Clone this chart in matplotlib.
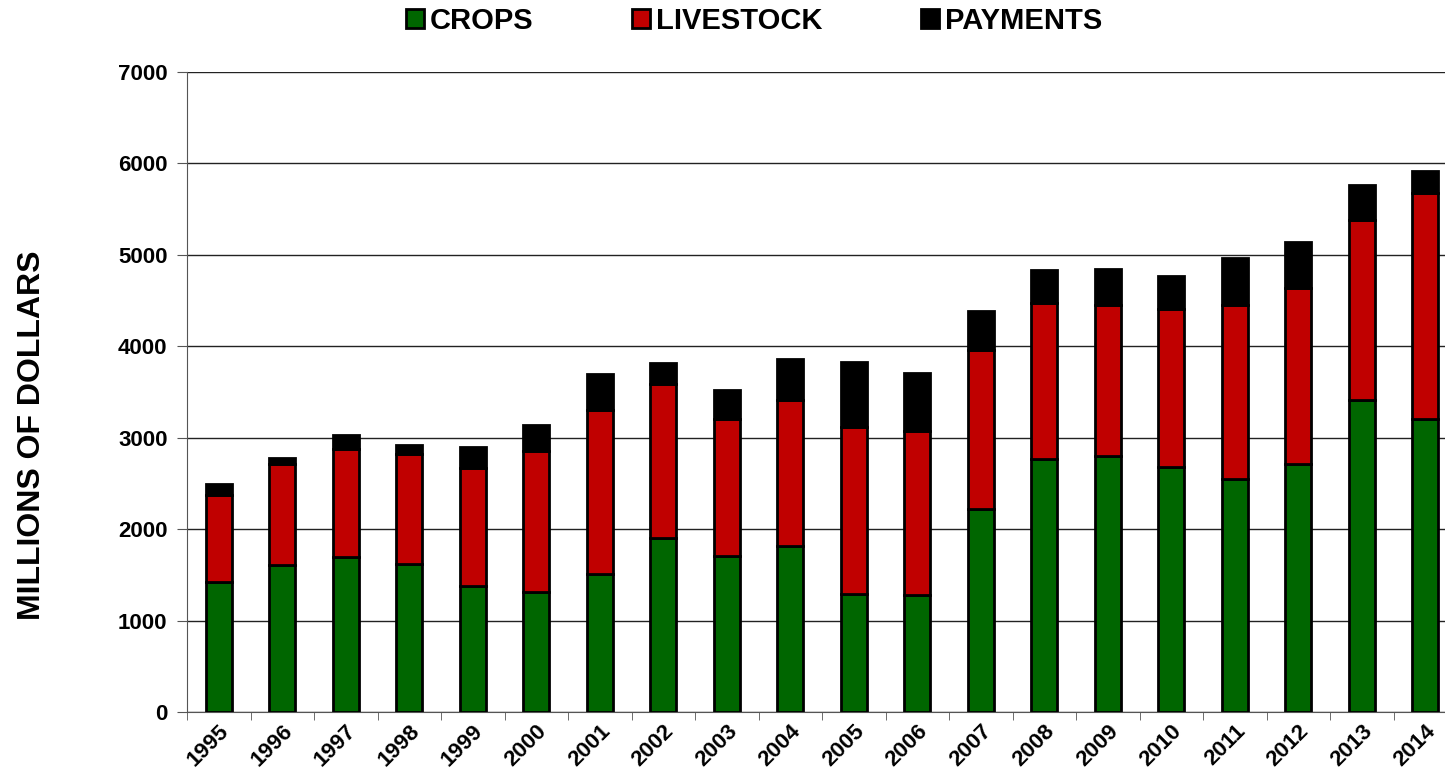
import matplotlib.pyplot as plt
import matplotlib.transforms as mtransforms
import numpy as np

# datos (millones de dolares)
years = ['1995', '1996', '1997', '1998', '1999', '2000', '2001', '2002', '2003', '2004',
         '2005', '2006', '2007', '2008', '2009', '2010', '2011', '2012', '2013', '2014']
crops = [1422, 1608, 1695, 1619, 1378, 1312, 1509, 1903, 1706, 1816,
         1291, 1280, 2220, 2767, 2800, 2680, 2548, 2712, 3412, 3205]
livestock = [951, 1104, 1182, 1203, 1291, 1543, 1794, 1684, 1499, 1596,
             1826, 1793, 1739, 1706, 1651, 1728, 1903, 1925, 1969, 2472]
payments = [122, 67, 153, 99, 230, 285, 395, 231, 318, 450,
            712, 636, 428, 362, 395, 362, 515, 504, 384, 241]

plt.rcParams['font.family'] = ['Liberation Sans', 'DejaVu Sans']
plt.rcParams['font.weight'] = 'bold'

fig = plt.figure(figsize=(14.45, 7.74), dpi=100)
ax = fig.add_axes([187 / 1445, 62 / 774, 1270 / 1445, 640 / 774])

x = np.arange(len(years))
ancho = 0.41
base2 = np.array(crops)
base3 = base2 + np.array(livestock)

ax.bar(x, crops, ancho, color='#006600', edgecolor='black', linewidth=2.0,
       label='CROPS', zorder=3)
ax.bar(x, livestock, ancho, bottom=base2, color='#C00000', edgecolor='black',
       linewidth=2.0, label='LIVESTOCK', zorder=3)
ax.bar(x, payments, ancho, bottom=base3, color='black', edgecolor='black',
       linewidth=2.0, label='PAYMENTS', zorder=3)

ax.set_xlim(-0.5, len(years) - 0.5)
ax.set_ylim(0, 7000)
ax.set_yticks(np.arange(0, 7001, 1000))
ax.yaxis.grid(True, color='#222222', linewidth=1.0, zorder=0)

ax.set_xticks(x)
ax.set_xticklabels(years, rotation=45, ha='right', rotation_mode='anchor',
                   fontsize=16, fontweight='bold')
# desplazar un poco las etiquetas a la derecha como en el original
desplazar = mtransforms.ScaledTranslation(8 / 100, 0, fig.dpi_scale_trans)
for lbl in ax.get_xticklabels():
    lbl.set_transform(lbl.get_transform() + desplazar)
ax.set_xticks(np.arange(-0.5, len(years), 1), minor=True)
ax.tick_params(axis='x', which='major', length=0, pad=6)
ax.tick_params(axis='x', which='minor', length=6, color='#555555')
ax.tick_params(axis='y', length=7, color='#555555', labelsize=16, pad=7)
for lbl in ax.get_yticklabels():
    lbl.set_fontweight('bold')

ax.spines['top'].set_visible(False)
ax.spines['right'].set_visible(False)
ax.spines['left'].set_color('#555555')
ax.spines['bottom'].set_color('#555555')

fig.text(32 / 1445, 1 - 435 / 774, 'MILLIONS OF DOLLARS', rotation=90,
         ha='center', va='center', fontsize=23, fontweight='bold')

fig.legend(loc='center', bbox_to_anchor=(754 / 1445, 1 - 21 / 774), ncol=3,
           frameon=False, handlelength=0.6, handleheight=0.6,
           handletextpad=0.2, columnspacing=3.4, prop={'weight': 'bold', 'size': 21})

fig.savefig('out.png', dpi=100)
